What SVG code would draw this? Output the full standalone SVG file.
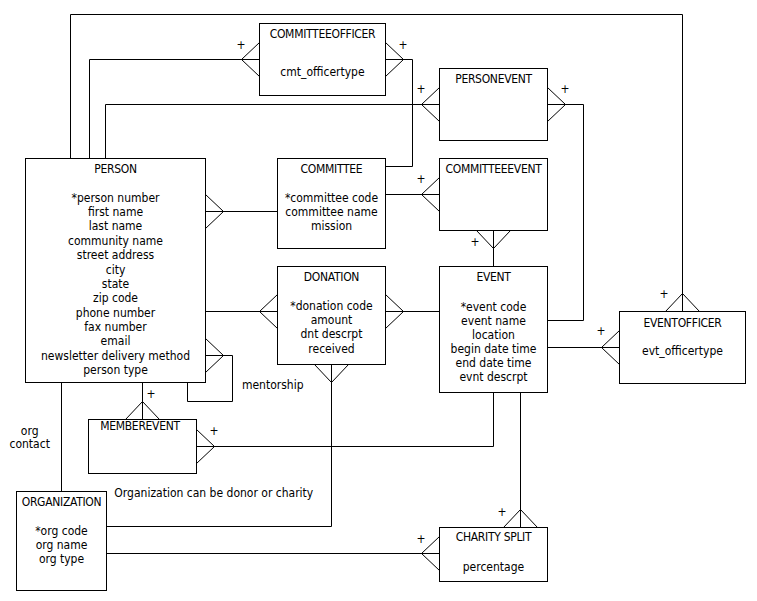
<svg xmlns="http://www.w3.org/2000/svg" width="757" height="601" viewBox="0 0 757 601">
<style>
.box{fill:#fff;stroke:#000;stroke-width:1}
.ln{fill:none;stroke:#000;stroke-width:1}
text{font-family:"DejaVu Sans Condensed","DejaVu Sans",sans-serif;font-stretch:condensed;font-size:12px;fill:#000;text-anchor:middle}
.t{letter-spacing:-0.3px}
</style>
<rect width="757" height="601" fill="#fff"/>
<g id="connectors" class="ln">
<path d="M70.5,158.5V14.5H682.5V311.5"/>
<path d="M89.5,158.5V59.5H259.5"/>
<path d="M105.5,158.5V104.5H439.5"/>
<path d="M385.5,59.5H412.5V166.5H385.5"/>
<path d="M547.5,104.5H583.5V320.5H547.5"/>
<path d="M385.5,194.5H439.5"/>
<path d="M493.5,230.5V266.5"/>
<path d="M205.5,211.5H277.5"/>
<path d="M205.5,311.5H277.5"/>
<path d="M385.5,311.5H439.5"/>
<path d="M205.5,355.5H232.5V401.5H187.5V382.5"/>
<path d="M142.5,382.5V419.5"/>
<path d="M196.5,446.5H493.5V392.5"/>
<path d="M61.5,382.5V491.5"/>
<path d="M331.5,364.5V526.5H106.5"/>
<path d="M106.5,553.5H439.5"/>
<path d="M520.5,392.5V527.5"/>
<path d="M547.5,347.5H619.5"/>
<path d="M259.5,42.5L241.5,59.5L259.5,76.5"/>
<path d="M385.5,42.5L403.5,59.5L385.5,76.5"/>
<path d="M439.5,87.5L421.5,104.5L439.5,121.5"/>
<path d="M547.5,87.5L565.5,104.5L547.5,121.5"/>
<path d="M439.5,177.5L421.5,194.5L439.5,211.5"/>
<path d="M476.5,230.5L493.5,248.5L510.5,230.5"/>
<path d="M205.5,194.5L223.5,211.5L205.5,228.5"/>
<path d="M205.5,338.5L223.5,355.5L205.5,372.5"/>
<path d="M277.5,294.5L259.5,311.5L277.5,328.5"/>
<path d="M385.5,294.5L403.5,311.5L385.5,328.5"/>
<path d="M314.5,364.5L331.5,382.5L348.5,364.5"/>
<path d="M665.5,311.5L682.5,293.5L699.5,311.5"/>
<path d="M619.5,330.5L601.5,347.5L619.5,364.5"/>
<path d="M125.5,419.5L142.5,401.5L159.5,419.5"/>
<path d="M196.5,429.5L214.5,446.5L196.5,463.5"/>
<path d="M503.5,527.5L520.5,509.5L537.5,527.5"/>
<path d="M439.5,536.5L421.5,553.5L439.5,570.5"/>
</g>
<g id="cardinality">
<text x="241" y="49">+</text>
<text x="403" y="49">+</text>
<text x="421" y="93">+</text>
<text x="565" y="93">+</text>
<text x="421" y="183">+</text>
<text x="475" y="246">+</text>
<text x="664" y="298">+</text>
<text x="601" y="335">+</text>
<text x="151" y="398">+</text>
<text x="214" y="435">+</text>
<text x="502" y="516">+</text>
<text x="421" y="543">+</text>
</g>
<g id="committeeofficer">
<rect class="box" x="259.5" y="23.5" width="126" height="72"/>
<text class="t" x="322.5" y="37.5">COMMITTEEOFFICER</text>
<text x="322.5" y="75.5">cmt_officertype</text>
</g>
<g id="personevent">
<rect class="box" x="439.5" y="68.5" width="108" height="72"/>
<text class="t" x="493.5" y="83">PERSONEVENT</text>
</g>
<g id="committeeevent">
<rect class="box" x="439.5" y="158.5" width="108" height="72"/>
<text class="t" x="493.5" y="173">COMMITTEEEVENT</text>
</g>
<g id="person">
<rect class="box" x="25.5" y="158.5" width="180" height="224"/>
<text class="t" x="115.5" y="173">PERSON</text>
<text x="115.5" y="201.7">*person number</text>
<text x="115.5" y="216.1">first name</text>
<text x="115.5" y="230.4">last name</text>
<text x="115.5" y="244.8">community name</text>
<text x="115.5" y="259.1">street address</text>
<text x="115.5" y="273.5">city</text>
<text x="115.5" y="287.9">state</text>
<text x="115.5" y="302.2">zip code</text>
<text x="115.5" y="316.6">phone number</text>
<text x="115.5" y="330.9">fax number</text>
<text x="115.5" y="345.3">email</text>
<text x="115.5" y="359.7">newsletter delivery method</text>
<text x="115.5" y="374">person type</text>
</g>
<g id="committee">
<rect class="box" x="277.5" y="158.5" width="108" height="90"/>
<text class="t" x="331.5" y="173">COMMITTEE</text>
<text x="331.5" y="201.7">*committee code</text>
<text x="331.5" y="215.7">committee name</text>
<text x="331.5" y="229.7">mission</text>
</g>
<g id="donation">
<rect class="box" x="277.5" y="266.5" width="108" height="98"/>
<text class="t" x="331.5" y="280.7">DONATION</text>
<text x="331.5" y="309.7">*donation code</text>
<text x="331.5" y="324">amount</text>
<text x="331.5" y="338.3">dnt descrpt</text>
<text x="331.5" y="353">received</text>
</g>
<g id="event">
<rect class="box" x="439.5" y="266.5" width="108" height="126"/>
<text class="t" x="493.5" y="281.3">EVENT</text>
<text x="493.5" y="310.7">*event code</text>
<text x="493.5" y="324.7">event name</text>
<text x="493.5" y="339">location</text>
<text x="493.5" y="353">begin date time</text>
<text x="493.5" y="367">end date time</text>
<text x="493.5" y="381">evnt descrpt</text>
</g>
<g id="eventofficer">
<rect class="box" x="619.5" y="311.5" width="126" height="72"/>
<text class="t" x="682.5" y="326.7">EVENTOFFICER</text>
<text x="682.5" y="354.7">evt_officertype</text>
</g>
<g id="memberevent">
<rect class="box" x="88.5" y="419.5" width="108" height="54"/>
<text class="t" x="140" y="429.7">MEMBEREVENT</text>
</g>
<g id="organization">
<rect class="box" x="16.5" y="491.5" width="90" height="99"/>
<text class="t" x="61.5" y="505.7">ORGANIZATION</text>
<text x="61.5" y="535">*org code</text>
<text x="61.5" y="549">org name</text>
<text x="61.5" y="563">org type</text>
</g>
<g id="charitysplit">
<rect class="box" x="439.5" y="527.5" width="108" height="54"/>
<text class="t" x="493.5" y="541.3">CHARITY SPLIT</text>
<text x="493.5" y="570.7">percentage</text>
</g>
<g id="labels">
<text x="272.7" y="389">mentorship</text>
<text x="29.7" y="434.7">org</text>
<text x="29.7" y="448">contact</text>
<text x="213.8" y="496.7">Organization can be donor or charity</text>
</g>
</svg>
